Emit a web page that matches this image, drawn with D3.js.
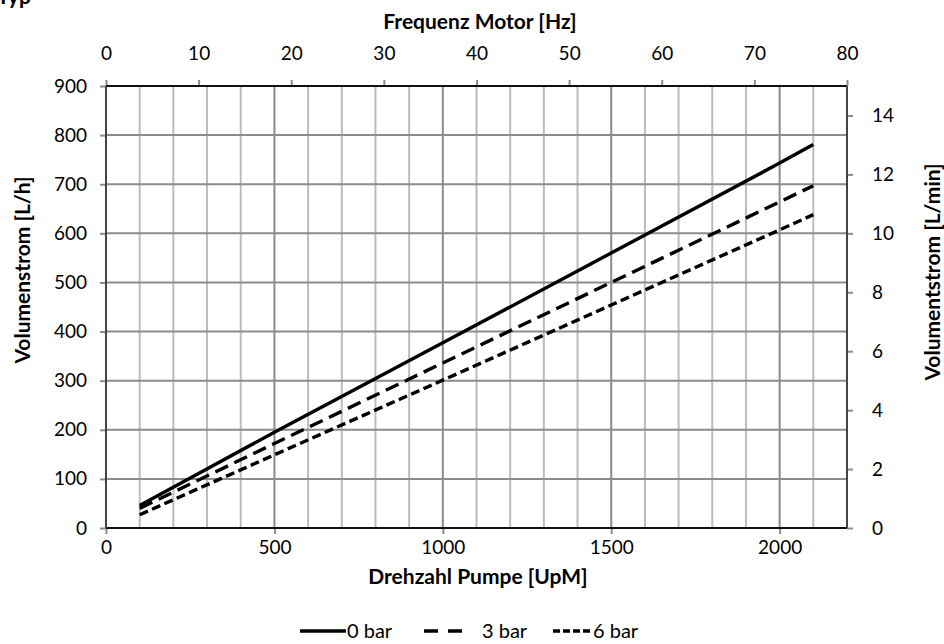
<!DOCTYPE html>
<html><head><meta charset="utf-8">
<script src="https://cdn.jsdelivr.net/npm/d3@7"></script>
<style>body{margin:0;background:#fff}svg{display:block}text{font-family:Lato,"Open Sans",sans-serif;fill:#000}</style>
</head><body>
<script>
const speeds = [100, 500, 1000, 1500, 2000, 2100];
const bar0 = [46, 195, 377, 560, 743, 781];
const bar3 = [40, 172, 336, 500, 664, 697];
const bar6 = [27, 149, 301, 454, 607, 638];
const seriesNames = ["0 bar", "3 bar", "6 bar"];
const xTicks = [0, 500, 1000, 1500, 2000];
const hzTicks = [0, 10, 20, 30, 40, 50, 60, 70, 80];
const yTicks = [0, 100, 200, 300, 400, 500, 600, 700, 800, 900];
const lminTicks = [0, 2, 4, 6, 8, 10, 12, 14];

const W = 944, H = 644;
const L = 106, R = 847, T = 86, B = 528;
const svg = d3.select("body").append("svg").attr("width", W).attr("height", H);

const x = d3.scaleLinear().domain([0, 2200]).range([L, R]);
const xHz = d3.scaleLinear().domain([0, 80]).range([L, R]);
const y = d3.scaleLinear().domain([0, 900]).range([B, T]);
const yMin = d3.scaleLinear().domain([0, 15]).range([B, T]);

// grid
const g = svg.append("g");
g.selectAll(".vg").data(d3.range(100, 2200, 100)).join("line")
  .attr("x1", d => x(d)).attr("x2", d => x(d)).attr("y1", T).attr("y2", B)
  .attr("stroke", d => d % 500 === 0 ? "#8c8c8c" : "#bcbcbc").attr("stroke-width", 2);
g.selectAll(".hg").data(d3.range(100, 900, 100)).join("line")
  .attr("x1", L).attr("x2", R).attr("y1", d => y(d)).attr("y2", d => y(d))
  .attr("stroke", "#8c8c8c").attr("stroke-width", 2);

function styleAxis(sel) {
  sel.select(".domain").remove();
  sel.selectAll(".tick line").attr("stroke", "#8c8c8c").attr("stroke-width", 2);
  sel.selectAll(".tick text").style("font-size", "19px").attr("fill", "#000");
}
const fmt = d3.format("d");
svg.append("g").attr("transform", `translate(0,${B})`)
  .call(d3.axisBottom(x).tickValues(xTicks).tickFormat(fmt).tickSize(6).tickPadding(7)).call(styleAxis);
svg.append("g").attr("transform", `translate(0,${T})`)
  .call(d3.axisTop(xHz).tickValues(hzTicks).tickFormat(fmt).tickSize(6).tickPadding(20)).call(styleAxis);
svg.append("g").attr("transform", `translate(${L},0)`)
  .call(d3.axisLeft(y).tickValues(yTicks).tickFormat(fmt).tickSize(6).tickPadding(13)).call(styleAxis);
svg.append("g").attr("transform", `translate(${R},0)`)
  .call(d3.axisRight(yMin).tickValues(lminTicks).tickFormat(fmt).tickSize(6).tickPadding(19)).call(styleAxis);

// frame
svg.append("line").attr("x1", L).attr("x2", R).attr("y1", T).attr("y2", T).attr("stroke", "#111").attr("stroke-width", 2);
svg.append("line").attr("x1", L).attr("x2", R).attr("y1", B).attr("y2", B).attr("stroke", "#111").attr("stroke-width", 2);
svg.append("line").attr("x1", L).attr("x2", L).attr("y1", T).attr("y2", B).attr("stroke", "#444").attr("stroke-width", 2);
svg.append("line").attr("x1", R).attr("x2", R).attr("y1", T).attr("y2", B).attr("stroke", "#444").attr("stroke-width", 2);

// series
const dashes = [null, "14,7", "9,4.5"];
const series = [bar0, bar3, bar6];
const line = d3.line().x(d => x(d[0])).y(d => y(d[1]));
series.forEach((vals, i) => {
  svg.append("path").datum(speeds.map((s, j) => [s, vals[j]]))
    .attr("d", line).attr("fill", "none").attr("stroke", "#000").attr("stroke-width", 3.4)
    .attr("stroke-dasharray", dashes[i]);
});

// titles
svg.append("text").attr("x", 480).attr("y", 29).attr("text-anchor", "middle")
  .style("font-size", "21px").style("font-weight", "bold").text("Frequenz Motor [Hz]");
svg.append("text").attr("x", 478).attr("y", 584).attr("text-anchor", "middle")
  .style("font-size", "21px").style("font-weight", "bold").text("Drehzahl Pumpe [UpM]");
svg.append("text").attr("transform", "translate(30,270) rotate(-90)").attr("text-anchor", "middle")
  .style("font-size", "21px").style("font-weight", "bold").text("Volumenstrom [L/h]");
svg.append("text").attr("transform", "translate(940,272) rotate(-90)").attr("text-anchor", "middle")
  .style("font-size", "21px").style("font-weight", "bold").text("Volumentstrom [L/min]");
svg.append("text").attr("x", -3).attr("y", 4).style("font-size", "21px").style("font-weight", "bold").text("Typ");

// legend
const legendDash = [null, "14,10", "7,3"];
const lg = [{x1: 300, x2: 346, tx: 347}, {x1: 424, x2: 468, tx: 482}, {x1: 553, x2: 592, tx: 593}];
lg.forEach((p, i) => {
  svg.append("line").attr("x1", p.x1).attr("x2", p.x2).attr("y1", 631).attr("y2", 631)
    .attr("stroke", "#000").attr("stroke-width", 3.4).attr("stroke-dasharray", legendDash[i]);
  svg.append("text").attr("x", p.tx).attr("y", 638).style("font-size", "20px").text(seriesNames[i]);
});
</script>
</body></html>
